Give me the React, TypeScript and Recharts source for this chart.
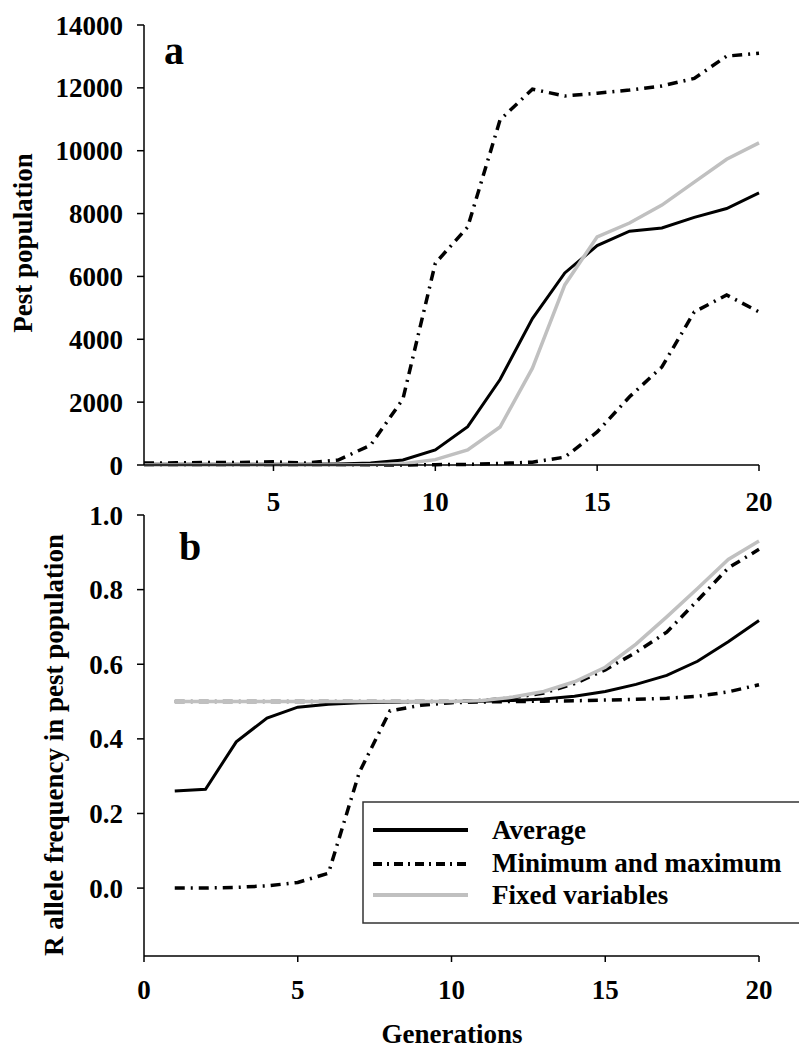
import React from 'react';
import { LineChart, Line, XAxis, YAxis } from 'recharts';

// ---- data ----
const generations = [1, 2, 3, 4, 5, 6, 7, 8, 9, 10, 11, 12, 13, 14, 15, 16, 17, 18, 19, 20];

// panel a: pest population
const popAverage = [20, 20, 20, 20, 25, 20, 30, 60, 160, 480, 1220, 2720, 4660, 6110, 6980, 7440, 7540, 7880, 8160, 8660];
const popMin = [0, 0, 0, 0, 0, 0, 0, 0, 0, 10, 20, 50, 90, 250, 1050, 2170, 3120, 4870, 5410, 4870];
const popMax = [60, 70, 80, 80, 100, 60, 160, 630, 2100, 6420, 7570, 10980, 11960, 11740, 11830, 11930, 12060, 12300, 13010, 13100];
const popFixed = [0, 0, 0, 0, 0, 0, 0, 10, 40, 170, 480, 1210, 3080, 5730, 7260, 7700, 8270, 9000, 9730, 10250];
const popTicks = [0, 2000, 4000, 6000, 8000, 10000, 12000, 14000];
const popXTicks = [5, 10, 15, 20];

// panel b: R allele frequency
const freqAverage = [0.26, 0.265, 0.392, 0.456, 0.485, 0.493, 0.497, 0.498, 0.5, 0.5, 0.501, 0.503, 0.507, 0.514, 0.527, 0.546, 0.57, 0.608, 0.66, 0.717];
const freqMin = [0.0, 0.0, 0.002, 0.006, 0.015, 0.04, 0.31, 0.475, 0.49, 0.497, 0.499, 0.5, 0.501, 0.502, 0.504, 0.506, 0.509, 0.514, 0.526, 0.545];
const freqMax = [0.5, 0.5, 0.5, 0.5, 0.5, 0.5, 0.5, 0.5, 0.5, 0.5, 0.503, 0.51, 0.523, 0.548, 0.585, 0.632, 0.686, 0.771, 0.858, 0.908];
const freqFixed = [0.5, 0.5, 0.5, 0.5, 0.5, 0.5, 0.5, 0.5, 0.5, 0.5, 0.503, 0.512, 0.527, 0.553, 0.592, 0.654, 0.727, 0.803, 0.881, 0.93];
const freqTicks = [0, 0.2, 0.4, 0.6, 0.8, 1.0];
const freqXTicks = [0, 5, 10, 15, 20];

const legendLabels = ['Average', 'Minimum and maximum', 'Fixed variables'];

// ---- styles ----
const FONT = 'Liberation Serif, Times New Roman, Times, serif';
const BLACK = '#000000';
const GREY = '#c0c0c0';
const DASH = '10 6 2 6';
const fontCss = { fontFamily: FONT, fontWeight: 700 };
const tickStyle = { fontFamily: FONT, fontSize: 27, fontWeight: 700, fill: '#000', style: fontCss };
const axisLine = { stroke: '#000', strokeWidth: 1.5 };
const tickLine = { stroke: '#000', strokeWidth: 1.5 };

const popData = generations.map((g, i) => ({
  g,
  avg: popAverage[i],
  min: popMin[i],
  max: popMax[i],
  fixed: popFixed[i],
}));

const freqData = generations.map((g, i) => ({
  g,
  avg: freqAverage[i],
  min: freqMin[i],
  max: freqMax[i],
  fixed: freqFixed[i],
}));

const textProps = { fontFamily: FONT, fontWeight: 700, fill: '#000', style: fontCss };

export default function App() {
  return (
    <div
      style={{
        position: 'absolute',
        left: 0,
        top: 0,
        width: 799,
        height: 1050,
        overflow: 'hidden',
        background: '#fff',
        fontFamily: FONT,
      }}
    >
      <div style={{ position: 'absolute', left: 0, top: 0 }}>
        <LineChart width={799} height={530} data={popData} margin={{ top: 25, right: 40, left: 0, bottom: 0 }}>
          <XAxis
            dataKey="g"
            type="number"
            domain={[1, 20]}
            ticks={popXTicks}
            interval={0}
            height={65}
            tickSize={6}
            tickMargin={21}
            axisLine={axisLine}
            tickLine={tickLine}
            tick={tickStyle}
          />
          <YAxis
            type="number"
            domain={[0, 14000]}
            ticks={popTicks}
            interval={0}
            width={144}
            tickSize={7}
            tickMargin={14}
            axisLine={axisLine}
            tickLine={tickLine}
            tick={tickStyle}
          />
          <Line dataKey="avg" type="linear" stroke={BLACK} strokeWidth={3} dot={false} isAnimationActive={false} />
          <Line dataKey="min" type="linear" stroke={BLACK} strokeWidth={3.5} strokeDasharray={DASH} dot={false} isAnimationActive={false} />
          <Line dataKey="max" type="linear" stroke={BLACK} strokeWidth={3.5} strokeDasharray={DASH} dot={false} isAnimationActive={false} />
          <Line dataKey="fixed" type="linear" stroke={GREY} strokeWidth={3.5} dot={false} isAnimationActive={false} />
          <text x={164} y={64} fontSize={40} {...textProps}>a</text>
          <text transform="translate(32,243) rotate(-90)" textAnchor="middle" fontSize={27} {...textProps}>
            Pest population
          </text>
        </LineChart>
      </div>

      <div style={{ position: 'absolute', left: 0, top: 480 }}>
        <LineChart width={799} height={570} data={freqData} margin={{ top: 35, right: 40, left: 0, bottom: 0 }}>
          <XAxis
            dataKey="g"
            type="number"
            domain={[0, 20]}
            ticks={freqXTicks}
            interval={0}
            height={94}
            tickSize={6}
            tickMargin={18}
            axisLine={axisLine}
            tickLine={tickLine}
            tick={tickStyle}
          />
          <YAxis
            type="number"
            domain={[-0.182, 1]}
            ticks={freqTicks}
            interval={0}
            width={144}
            tickSize={7}
            tickMargin={14}
            axisLine={axisLine}
            tickLine={tickLine}
            tick={tickStyle}
            tickFormatter={(v: number) => v.toFixed(1)}
          />
          <Line dataKey="avg" type="linear" stroke={BLACK} strokeWidth={3} dot={false} isAnimationActive={false} />
          <Line dataKey="min" type="linear" stroke={BLACK} strokeWidth={3.5} strokeDasharray={DASH} dot={false} isAnimationActive={false} />
          <Line dataKey="max" type="linear" stroke={BLACK} strokeWidth={3.5} strokeDasharray={DASH} dot={false} isAnimationActive={false} />
          <Line dataKey="fixed" type="linear" stroke={GREY} strokeWidth={3.5} dot={false} isAnimationActive={false} />
          <text x={179} y={80} fontSize={40} {...textProps}>b</text>
          <text transform="translate(63,265) rotate(-90)" textAnchor="middle" fontSize={27} {...textProps}>
            R allele frequency in pest population
          </text>
          <text x={452} y={563} textAnchor="middle" fontSize={27} {...textProps}>
            Generations
          </text>
          {/* legend */}
          <g>
            <rect x={363} y={322} width={460} height={121} fill="#fff" stroke="#333" strokeWidth={1.5} />
            <line x1={373} x2={468} y1={350} y2={350} stroke={BLACK} strokeWidth={4} />
            <line x1={373} x2={468} y1={384} y2={384} stroke={BLACK} strokeWidth={4} strokeDasharray="9 5 2 5" />
            <line x1={373} x2={468} y1={415} y2={415} stroke={GREY} strokeWidth={4} />
            <text x={492} y={359} fontSize={27} {...textProps}>{legendLabels[0]}</text>
            <text x={492} y={392} fontSize={27} {...textProps}>{legendLabels[1]}</text>
            <text x={492} y={424} fontSize={27} {...textProps}>{legendLabels[2]}</text>
          </g>
        </LineChart>
      </div>
    </div>
  );
}
